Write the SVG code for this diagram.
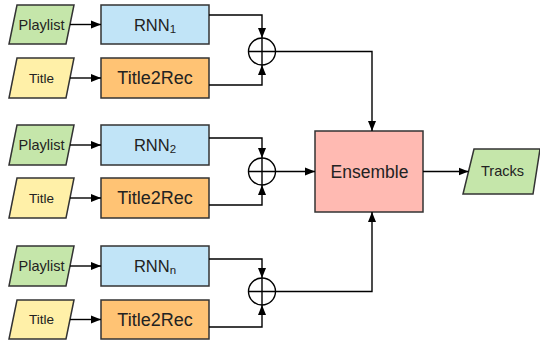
<svg xmlns="http://www.w3.org/2000/svg" width="540" height="345" viewBox="0 0 540 345">
<defs>
<marker id="ah" viewBox="0 0 10 10" refX="10" refY="5" markerWidth="10" markerHeight="10" markerUnits="userSpaceOnUse" orient="auto">
<path d="M0,1 L10,5 L0,9 Z" fill="#000"/>
</marker>
</defs>
<style>
.sh{stroke:#333;stroke-width:1.5}
.pl{fill:#c5e6aa}
.ti{fill:#fff0a8}
.rnn{fill:#c1e4f7}
.t2r{fill:#ffc374}
.ens{fill:#ffbab2}
.t{font-family:"Liberation Sans",Arial,sans-serif;fill:#222;text-anchor:middle;dominant-baseline:central}
.s14{font-size:14.5px}
.sti{font-size:13.5px}
.srnn{font-size:16.5px}
.s17{font-size:17.5px}
.s18{font-size:18px}
.c{fill:none;stroke:#000;stroke-width:1.4}
.con path{fill:none;stroke:#000;stroke-width:1.4}
.ar{marker-end:url(#ah)}
</style>

<g id="playlist1"><path class="sh pl" d="M17,5 L74,5 L66,44 L9,44 Z"/><text class="t s14" x="41.5" y="24.5">Playlist</text></g>
<g id="title1"><path class="sh ti" d="M17,58 L74,58 L66,98 L9,98 Z"/><text class="t sti" x="41.5" y="78">Title</text></g>
<g id="rnn1"><rect class="sh rnn" x="101" y="5" width="108" height="39"/><text class="t srnn" x="155" y="24.5">RNN<tspan font-size="11.5" dy="4">1</tspan></text></g>
<g id="t2r1"><rect class="sh t2r" x="101" y="58" width="108" height="40"/><text class="t s18" x="155" y="78">Title2Rec</text></g>
<g id="sum1"><circle class="c" cx="262" cy="51.5" r="13.5"/><path class="c" d="M248.5,51.5 H275.5 M262,38 V65"/></g>

<g id="playlist2"><path class="sh pl" d="M17,125 L74,125 L66,165 L9,165 Z"/><text class="t s14" x="41.5" y="145">Playlist</text></g>
<g id="title2"><path class="sh ti" d="M17,178 L74,178 L66,218 L9,218 Z"/><text class="t sti" x="41.5" y="198">Title</text></g>
<g id="rnn2"><rect class="sh rnn" x="101" y="125" width="108" height="40"/><text class="t srnn" x="155" y="145">RNN<tspan font-size="11.5" dy="4">2</tspan></text></g>
<g id="t2r2"><rect class="sh t2r" x="101" y="178" width="108" height="40"/><text class="t s18" x="155" y="198">Title2Rec</text></g>
<g id="sum2"><circle class="c" cx="262" cy="171.5" r="13.5"/><path class="c" d="M248.5,171.5 H275.5 M262,158 V185"/></g>

<g id="playlist3"><path class="sh pl" d="M17,246 L74,246 L66,286 L9,286 Z"/><text class="t s14" x="41.5" y="266">Playlist</text></g>
<g id="title3"><path class="sh ti" d="M17,300 L74,300 L66,339 L9,339 Z"/><text class="t sti" x="41.5" y="319.5">Title</text></g>
<g id="rnn3"><rect class="sh rnn" x="101" y="246" width="108" height="40"/><text class="t srnn" x="155" y="266">RNN<tspan font-size="11.5" dy="4">n</tspan></text></g>
<g id="t2r3"><rect class="sh t2r" x="101" y="300" width="108" height="39"/><text class="t s18" x="155" y="319.5">Title2Rec</text></g>
<g id="sum3"><circle class="c" cx="262" cy="291.5" r="13.5"/><path class="c" d="M248.5,291.5 H275.5 M262,278 V305"/></g>

<g id="ensemble"><rect class="sh ens" x="315" y="131" width="108" height="81"/><text class="t s17" x="369.5" y="171.5">Ensemble</text></g>
<g id="tracks"><path class="sh pl" d="M474,149 L540,149 L533,194 L463,194 Z"/><text class="t s14" x="502.5" y="171">Tracks</text></g>

<g id="connectors" class="con">
<path class="ar" d="M70,24.5 H101"/>
<path class="ar" d="M70,78 H101"/>
<path class="ar" d="M209,15 H262 V38"/>
<path class="ar" d="M209,85 H262 V65"/>
<path class="ar" d="M275.5,51.5 H372 V131"/>

<path class="ar" d="M70,145 H101"/>
<path class="ar" d="M70,198 H101"/>
<path class="ar" d="M209,138 H262 V158"/>
<path class="ar" d="M209,205 H262 V185"/>
<path class="ar" d="M275.5,171.5 H315"/>

<path class="ar" d="M70,266 H101"/>
<path class="ar" d="M70,319.5 H101"/>
<path class="ar" d="M209,259 H262 V278"/>
<path class="ar" d="M209,327 H262 V305"/>
<path class="ar" d="M275.5,291.5 H372 V212"/>

<path class="ar" d="M423,171.5 H468.5"/>
</g>
</svg>
